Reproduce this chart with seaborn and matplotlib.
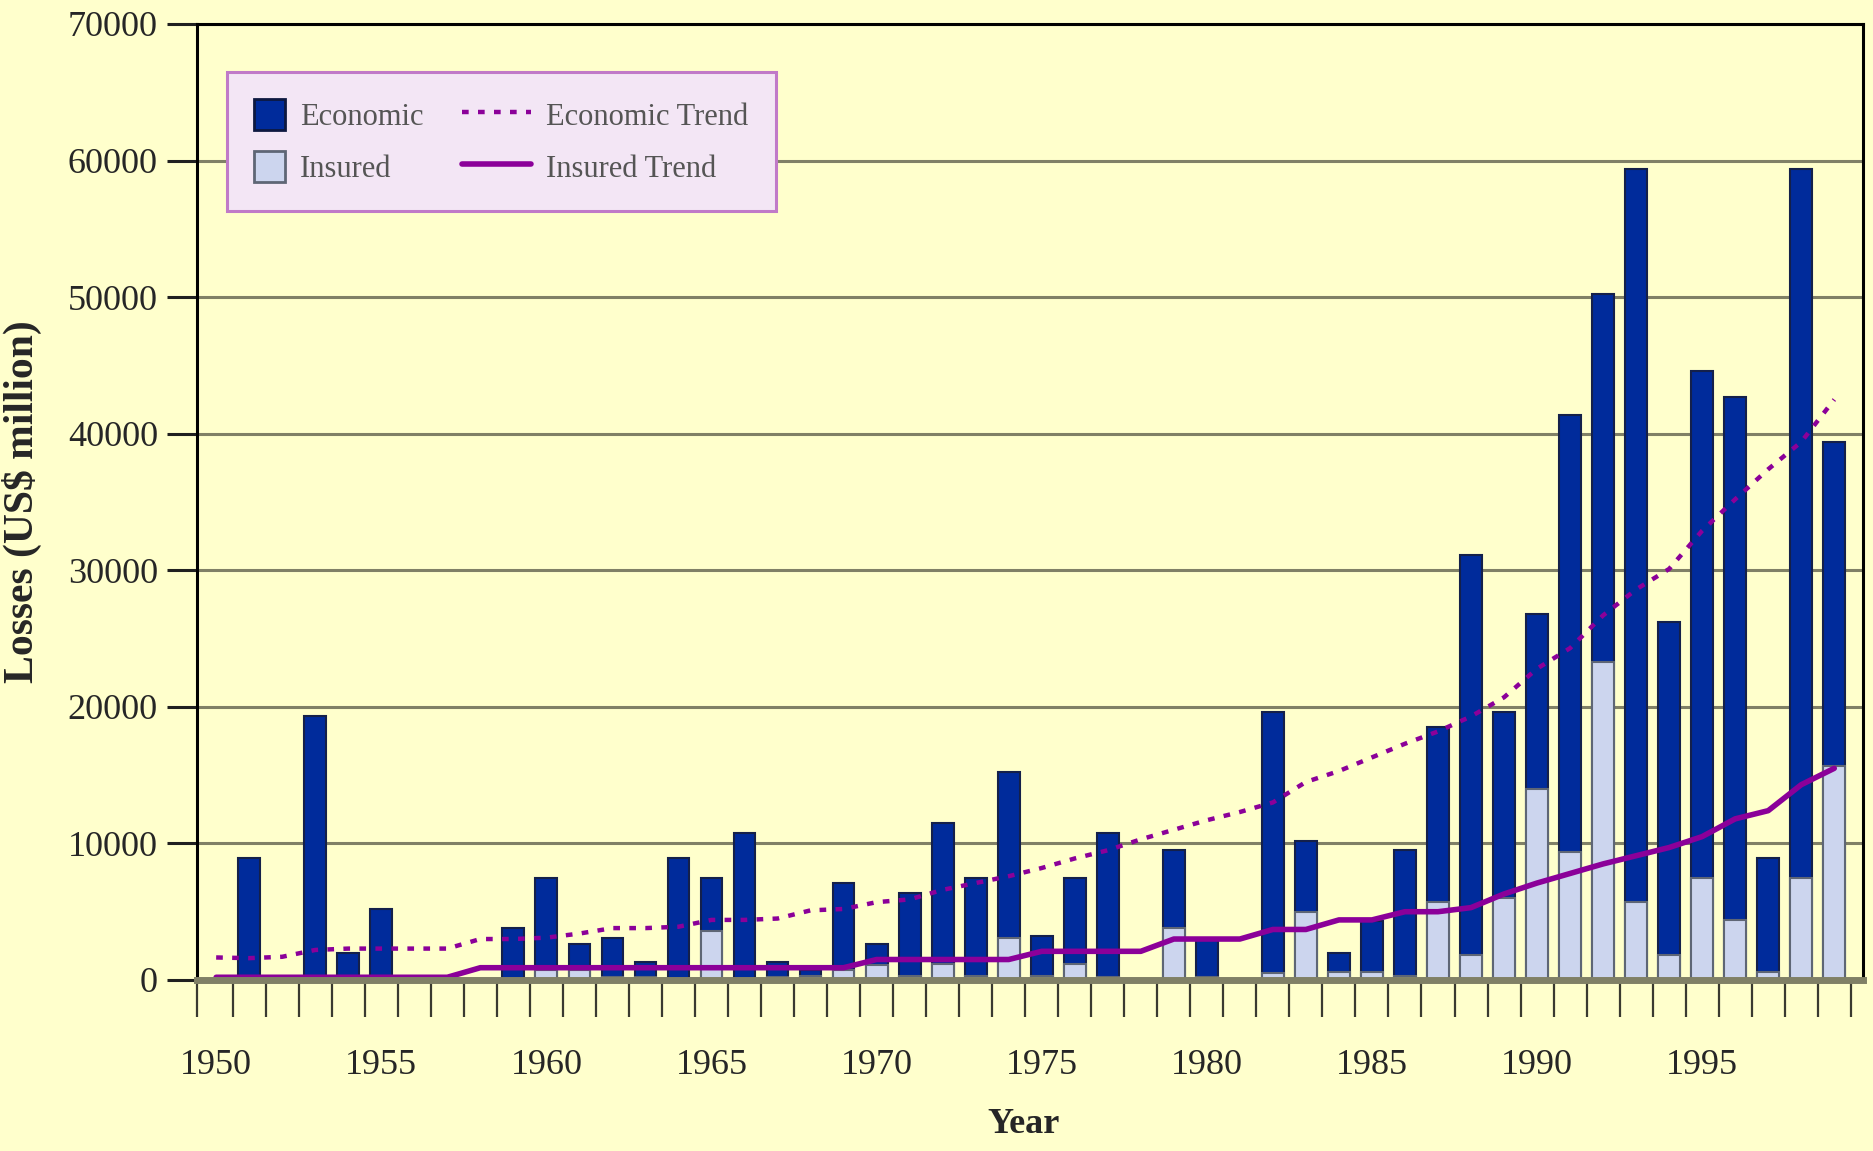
import numpy as np
import pandas as pd
import matplotlib
matplotlib.use('Agg')
import matplotlib.pyplot as plt
from matplotlib.patches import Patch
from matplotlib.lines import Line2D
from matplotlib.legend_handler import HandlerLine2D
import seaborn as sns

# values (US$ million)
years = list(range(1950, 2000))
economic = [
    0, 8900, 0, 19300, 2000, 5200, 0, 0, 0, 3800,
    7500, 2600, 3100, 1300, 8900, 7500, 10800, 1300, 700, 7100,
    2600, 6400, 11500, 7500, 15200, 3200, 7500, 10800, 0, 9500,
    2900, 0, 19600, 10200, 2000, 4300, 9500, 18500, 31100, 19600,
    26800, 41400, 50200, 59400, 26200, 44600, 42700, 8900, 59400, 39400,
]
insured = [
    0, 0, 0, 0, 0, 0, 0, 0, 0, 0,
    700, 700, 200, 200, 0, 3600, 0, 200, 300, 700,
    1100, 300, 1200, 300, 3100, 300, 1200, 200, 0, 3800,
    200, 0, 500, 5000, 600, 600, 300, 5700, 1800, 6000,
    14000, 9400, 23300, 5700, 1800, 7500, 4400, 600, 7500, 15700,
]
economic_trend = [
    1650, 1600, 1700, 2200, 2300, 2300, 2300, 2300, 3000, 3000,
    3100, 3400, 3800, 3800, 3900, 4400, 4400, 4500, 5100, 5200,
    5700, 5900, 6600, 7100, 7600, 8200, 8900, 9500, 10300, 11000,
    11700, 12300, 13000, 14500, 15300, 16300, 17300, 18200, 19300, 20700,
    22800, 24300, 26700, 28600, 30100, 32900, 35200, 37400, 39400, 42500,
]
insured_trend = [
    200, 200, 200, 200, 200, 200, 200, 200, 900, 900,
    900, 900, 900, 900, 900, 900, 900, 900, 900, 900,
    1500, 1500, 1500, 1500, 1500, 2100, 2100, 2100, 2100, 3000,
    3000, 3000, 3700, 3700, 4400, 4400, 5000, 5000, 5300, 6300,
    7100, 7800, 8500, 9100, 9700, 10500, 11800, 12400, 14300, 15500,
]
year_labels = [1950, 1955, 1960, 1965, 1970, 1975, 1980, 1985, 1990, 1995]
y_ticks = [0, 10000, 20000, 30000, 40000, 50000, 60000, 70000]

BG = '#FFFFCC'
GRID = '#808066'
ECON_BLUE = '#002B9B'
INS_BLUE = '#CCD5EE'
PURPLE = '#8B0099'
DOTS = (0, (1.5, 2.1))


class LongLineHandler(HandlerLine2D):
    """Draw legend lines longer than the (narrow) patch handles."""

    def create_artists(self, legend, orig_handle, xdescent, ydescent,
                       width, height, fontsize, trans):
        extra = 1.25 * fontsize
        return super().create_artists(legend, orig_handle, xdescent + extra,
                                      ydescent, width + extra, height,
                                      fontsize, trans)


sns.set_style('white')
plt.rcParams['font.family'] = ['Liberation Serif', 'DejaVu Serif']

df = pd.DataFrame({
    'year': years,
    'economic': economic,
    'insured': insured,
    'economic_trend': economic_trend,
    'insured_trend': insured_trend,
})

fig = plt.figure(figsize=(18.73, 11.51), dpi=100, facecolor=BG)
ax = fig.add_axes([197 / 1873, 1 - 980 / 1151, 1666 / 1873, 956 / 1151])
ax.set_facecolor(BG)

sns.barplot(data=df, x='year', y='economic', native_scale=True, width=0.66,
            color=ECON_BLUE, saturation=1, edgecolor='#14204A', linewidth=1.5,
            ax=ax, zorder=3)
sns.barplot(data=df, x='year', y='insured', native_scale=True, width=0.66,
            color=INS_BLUE, saturation=1, edgecolor='#5E6675', linewidth=1.5,
            ax=ax, zorder=4)
sns.lineplot(data=df, x='year', y='economic_trend', color=PURPLE,
             linewidth=3.2, linestyle=DOTS, dash_capstyle='butt', ax=ax, zorder=5)
sns.lineplot(data=df, x='year', y='insured_trend', color=PURPLE,
             linewidth=4, ax=ax, zorder=6)

ax.set_xlim(1949.42, 1999.87)
ax.set_ylim(0, 70000)
ax.set_yticks(y_ticks)
ax.set_yticklabels([str(v) for v in y_ticks])
ax.set_xticks(year_labels)
ax.set_xticklabels([str(y) for y in year_labels])
ax.set_xticks([1949.42] + [y + 0.5 for y in years], minor=True)
ax.yaxis.grid(True, color=GRID, linewidth=2.2)
ax.xaxis.grid(False)
ax.set_axisbelow(True)

ax.tick_params(axis='x', which='major', bottom=True, length=0, pad=50,
               labelsize=26)
ax.tick_params(axis='x', which='minor', bottom=True, length=26.5, width=1.6,
               color='#3A3A30')
ax.tick_params(axis='y', left=True, length=21.6, width=2.2, color='#202020',
               pad=6.5, labelsize=26)

for side in ['left', 'top', 'right']:
    ax.spines[side].set_color('black')
    ax.spines[side].set_linewidth(2.2)
ax.spines['bottom'].set_color(GRID)
ax.spines['bottom'].set_linewidth(5)
ax.spines['bottom'].set_zorder(7)

ax.set_ylabel('Losses (US$ million)', fontsize=30, fontweight='bold')
ax.yaxis.set_label_coords(-0.093, 0.5)
ax.set_xlabel('Year', fontsize=26, fontweight='bold', va='top')
ax.xaxis.set_label_coords(0.496, -0.134)

handles = [
    Patch(facecolor=ECON_BLUE, edgecolor='#0D1840', linewidth=2),
    Patch(facecolor=INS_BLUE, edgecolor='#5E6675', linewidth=2),
    Line2D([], [], color=PURPLE, lw=3.2, linestyle=DOTS, dash_capstyle='butt'),
    Line2D([], [], color=PURPLE, lw=4),
]
labels = ['Economic', 'Insured', 'Economic Trend', 'Insured Trend']
leg = ax.legend(handles, labels, ncol=2, loc='upper left',
                bbox_to_anchor=(0.018, 0.950), borderaxespad=0, fontsize=22,
                handlelength=1.0, handleheight=1.15, handletextpad=0.5,
                labelspacing=0.64, columnspacing=2.5, borderpad=0.9,
                frameon=True, fancybox=False, framealpha=1,
                facecolor='#F3E6F5', edgecolor='#C07AC8',
                handler_map={Line2D: LongLineHandler()})
leg.get_frame().set_linewidth(2.2)
for t in leg.get_texts():
    t.set_color('#555555')

fig.savefig('out.png', dpi=100, facecolor=BG)
